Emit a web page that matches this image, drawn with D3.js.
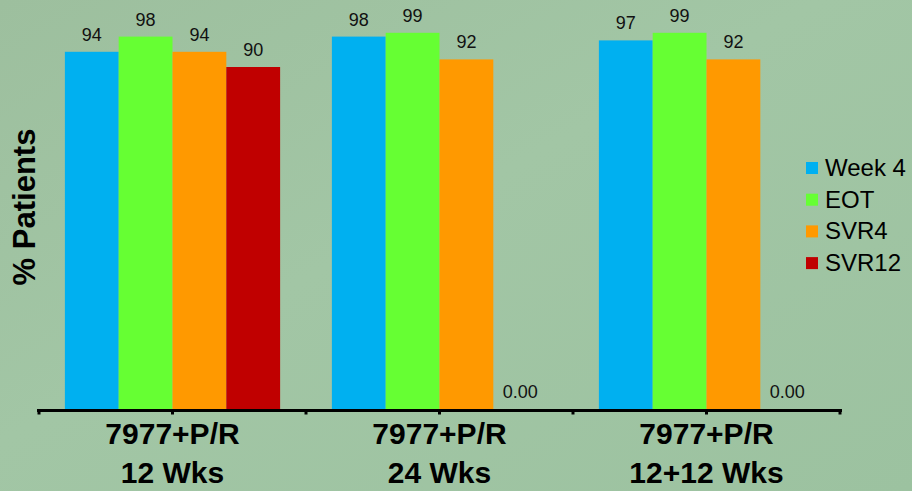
<!DOCTYPE html>
<html><head><meta charset="utf-8">
<script src="https://cdn.jsdelivr.net/npm/d3@7"></script>
<style>html,body{margin:0;padding:0;overflow:hidden;}svg{display:block;}</style>
</head><body>
<svg id="chart" width="912" height="491"></svg>
<script>
const groups = ["7977+P/R|12 Wks", "7977+P/R|24 Wks", "7977+P/R|12+12 Wks"];
const series = ["Week 4", "EOT", "SVR4", "SVR12"];
const colors = ["#00B0F0", "#66FF33", "#FF9900", "#C00000"];
const week4 = [94, 98, 97];
const eot = [98, 99, 99];
const svr4 = [94, 92, 92];
const svr12 = [90, 0, 0];
const yLabel = "% Patients";

const svg = d3.select("#chart");
const W = 912, H = 491;

// background
const defs = svg.append("defs");
const grad = defs.append("linearGradient").attr("id", "bg").attr("x1", "0").attr("y1", "0").attr("x2", "1").attr("y2", "1");
grad.append("stop").attr("offset", "0").attr("stop-color", "#9DBF9E");
grad.append("stop").attr("offset", "0.45").attr("stop-color", "#A2C6A5");
grad.append("stop").attr("offset", "1").attr("stop-color", "#9CC2A0");
svg.append("rect").attr("width", W).attr("height", H).attr("fill", "url(#bg)");

const x0 = d3.scaleBand().domain(groups).range([39, 840]).padding(0);
const x1 = d3.scaleBand().domain(series).range([0, x0.bandwidth()]).paddingInner(0).paddingOuter(0.481);
const y = d3.scaleLinear().domain([0, 100]).range([409, 29]);
const color = d3.scaleOrdinal().domain(series).range(colors);

const data = groups.map((g, i) => ({
  group: g,
  values: [week4[i], eot[i], svr4[i], svr12[i]].map((v, j) => ({ key: series[j], value: v }))
}));

const gG = svg.selectAll("g.grp").data(data).join("g").attr("class", "grp")
  .attr("transform", d => `translate(${x0(d.group)},0)`);

gG.selectAll("rect").data(d => d.values).join("rect")
  .attr("x", d => x1(d.key)).attr("width", x1.bandwidth())
  .attr("y", d => y(d.value)).attr("height", d => y(0) - y(d.value))
  .attr("fill", d => color(d.key));

gG.selectAll("text.val").data(d => d.values).join("text").attr("class", "val")
  .attr("x", d => x1(d.key) + x1.bandwidth() / 2)
  .attr("y", d => y(d.value) - 11)
  .attr("text-anchor", "middle")
  .attr("font-family", "Liberation Sans, Arial, sans-serif")
  .attr("font-size", 18).attr("fill", "#111")
  .text(d => d.value === 0 ? "0.00" : d3.format("d")(d.value));

// axis
const axisY = 410.5;
svg.append("line").attr("x1", 37).attr("x2", 842).attr("y1", axisY).attr("y2", axisY)
  .attr("stroke", "#000").attr("stroke-width", 3);
const tickPos = [];
groups.forEach(g => { tickPos.push(x0(g)); tickPos.push(x0(g) + x0.bandwidth() / 2); });
tickPos.push(x0(groups[groups.length - 1]) + x0.bandwidth());
svg.selectAll("line.tick").data(tickPos).join("line").attr("class", "tick")
  .attr("x1", d => d).attr("x2", d => d).attr("y1", axisY).attr("y2", axisY + 4)
  .attr("stroke", "#000").attr("stroke-width", 3);

// category labels
const cat = svg.selectAll("text.cat").data(groups).join("text").attr("class", "cat")
  .attr("text-anchor", "middle")
  .attr("font-family", "Liberation Sans, Arial, sans-serif")
  .attr("font-weight", "bold").attr("font-size", 30).attr("fill", "#000");
cat.each(function (g) {
  const parts = g.split("|");
  const t = d3.select(this);
  const cx = x0(g) + x0.bandwidth() / 2;
  t.append("tspan").attr("x", cx).attr("y", 444).text(parts[0]);
  t.append("tspan").attr("x", cx).attr("y", 483).text(parts[1]);
});

// y label
svg.append("text")
  .attr("transform", "translate(35,207) rotate(-90)")
  .attr("text-anchor", "middle")
  .attr("font-family", "Liberation Sans, Arial, sans-serif")
  .attr("font-weight", "bold").attr("font-size", 31).attr("fill", "#000")
  .text(yLabel);

// legend
const leg = svg.selectAll("g.leg").data(series).join("g").attr("class", "leg")
  .attr("transform", (d, i) => `translate(806,${168 + i * 31.7})`);
leg.append("rect").attr("x", 0).attr("y", -6).attr("width", 12).attr("height", 12)
  .attr("fill", d => color(d));
leg.append("text").attr("x", 19).attr("y", 8)
  .attr("font-family", "Liberation Sans, Arial, sans-serif")
  .attr("font-size", 24).attr("fill", "#000")
  .text(d => d);
</script>
</body></html>
